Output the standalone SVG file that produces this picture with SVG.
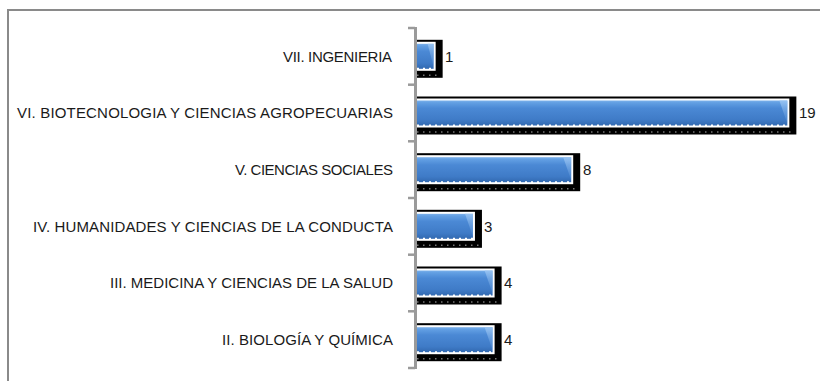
<svg xmlns="http://www.w3.org/2000/svg" width="820" height="381" viewBox="0 0 820 381">
<defs>
<linearGradient id="barGrad" x1="0" y1="0" x2="0" y2="1">
<stop offset="0" stop-color="#86b8ee"/>
<stop offset="0.12" stop-color="#629fe3"/>
<stop offset="0.32" stop-color="#4b89d5"/>
<stop offset="0.75" stop-color="#3f7bc7"/>
<stop offset="1" stop-color="#2f66ad"/>
</linearGradient>
<linearGradient id="bevel" x1="0" y1="0" x2="0" y2="1">
<stop offset="0" stop-color="#9cc6f3" stop-opacity="0.85"/>
<stop offset="1" stop-color="#5a94da" stop-opacity="0.3"/>
</linearGradient>
</defs>
<style>
.frame{fill:none;stroke:#8a8a8a;stroke-width:2}
.axis{fill:none;stroke:#9a9a9a;stroke-width:3}
.tick{stroke:#9a9a9a;stroke-width:2.5}
.shadow{fill:#000}
.bar{fill:url(#barGrad);stroke:#fff;stroke-width:2}
.bev{fill:url(#bevel)}
.dash{stroke:#fff;stroke-width:2;stroke-dasharray:2 4}
.dots{stroke:#777;stroke-width:1.5;stroke-dasharray:1.5 4.5}
.cat{font-family:"Liberation Sans",Arial,sans-serif;font-size:15px;fill:#1a1a1a;text-anchor:end}
.val{font-family:"Liberation Sans",Arial,sans-serif;font-size:15px;fill:#1a1a1a}
</style>
<rect width="820" height="381" fill="#fff"/>
<path class="frame" d="M8 381 V10 H820"/>

<g id="bar-vii">
<rect class="shadow" x="415" y="39.8" width="27.65" height="38"/>
<rect class="bar" x="415" y="42.8" width="19.65" height="27"/>
<polygon class="bev" points="427.6,43.8 433.6,43.8 433.6,66.8"/>
<line class="dash" x1="417" y1="68.8" x2="433.6" y2="68.8"/>
<line class="dots" x1="417" y1="75.3" x2="440" y2="75.3"/>
<text class="cat" x="392" y="61.5" textLength="109">VII. INGENIERIA</text>
<text class="val" x="445" y="61.5">1</text>
</g>

<g id="bar-vi">
<rect class="shadow" x="415" y="96.5" width="381.35" height="38"/>
<rect class="bar" x="415" y="99.5" width="373.35" height="27"/>
<polygon class="bev" points="779.35,100.5 787.35,100.5 787.35,123.5"/>
<line class="dash" x1="417" y1="125.5" x2="787" y2="125.5"/>
<line class="dots" x1="417" y1="132" x2="794" y2="132"/>
<text class="cat" x="393" y="118.2" textLength="376">VI. BIOTECNOLOGIA Y CIENCIAS AGROPECUARIAS</text>
<text class="val" x="799" y="118.2">19</text>
</g>

<g id="bar-v">
<rect class="shadow" x="415" y="153.2" width="165.2" height="38"/>
<rect class="bar" x="415" y="156.2" width="157.2" height="27"/>
<polygon class="bev" points="563.2,157.2 571.2,157.2 571.2,180.2"/>
<line class="dash" x1="417" y1="182.2" x2="571" y2="182.2"/>
<line class="dots" x1="417" y1="188.7" x2="578" y2="188.7"/>
<text class="cat" x="393" y="174.9" textLength="158">V. CIENCIAS SOCIALES</text>
<text class="val" x="583" y="174.9">8</text>
</g>

<g id="bar-iv">
<rect class="shadow" x="415" y="209.8" width="66.95" height="38"/>
<rect class="bar" x="415" y="212.8" width="58.95" height="27"/>
<polygon class="bev" points="465,213.8 473,213.8 473,236.8"/>
<line class="dash" x1="417" y1="238.8" x2="473" y2="238.8"/>
<line class="dots" x1="417" y1="245.3" x2="480" y2="245.3"/>
<text class="cat" x="393" y="231.5" textLength="360">IV. HUMANIDADES Y CIENCIAS DE LA CONDUCTA</text>
<text class="val" x="484" y="231.5">3</text>
</g>

<g id="bar-iii">
<rect class="shadow" x="415" y="266.5" width="86.6" height="38"/>
<rect class="bar" x="415" y="269.5" width="78.6" height="27"/>
<polygon class="bev" points="484.6,270.5 492.6,270.5 492.6,293.5"/>
<line class="dash" x1="417" y1="295.5" x2="492.6" y2="295.5"/>
<line class="dots" x1="417" y1="302" x2="500" y2="302"/>
<text class="cat" x="393" y="288.2" textLength="283">III. MEDICINA Y CIENCIAS DE LA SALUD</text>
<text class="val" x="504" y="288.2">4</text>
</g>

<g id="bar-ii">
<rect class="shadow" x="415" y="323.2" width="86.6" height="38"/>
<rect class="bar" x="415" y="326.2" width="78.6" height="27"/>
<polygon class="bev" points="484.6,327.2 492.6,327.2 492.6,350.2"/>
<line class="dash" x1="417" y1="352.2" x2="492.6" y2="352.2"/>
<line class="dots" x1="417" y1="358.7" x2="500" y2="358.7"/>
<text class="cat" x="393" y="344.9" textLength="171">II. BIOLOGÍA Y QUÍMICA</text>
<text class="val" x="504" y="344.9">4</text>
</g>

<g id="axis">
<line class="axis" x1="415.5" y1="27" x2="415.5" y2="369"/>
<line class="tick" x1="408" y1="28" x2="415" y2="28"/>
<line class="tick" x1="408" y1="84.7" x2="415" y2="84.7"/>
<line class="tick" x1="408" y1="141.3" x2="415" y2="141.3"/>
<line class="tick" x1="408" y1="198" x2="415" y2="198"/>
<line class="tick" x1="408" y1="254.7" x2="415" y2="254.7"/>
<line class="tick" x1="408" y1="311.3" x2="415" y2="311.3"/>
<line class="tick" x1="408" y1="368" x2="415" y2="368"/>
</g>
</svg>
